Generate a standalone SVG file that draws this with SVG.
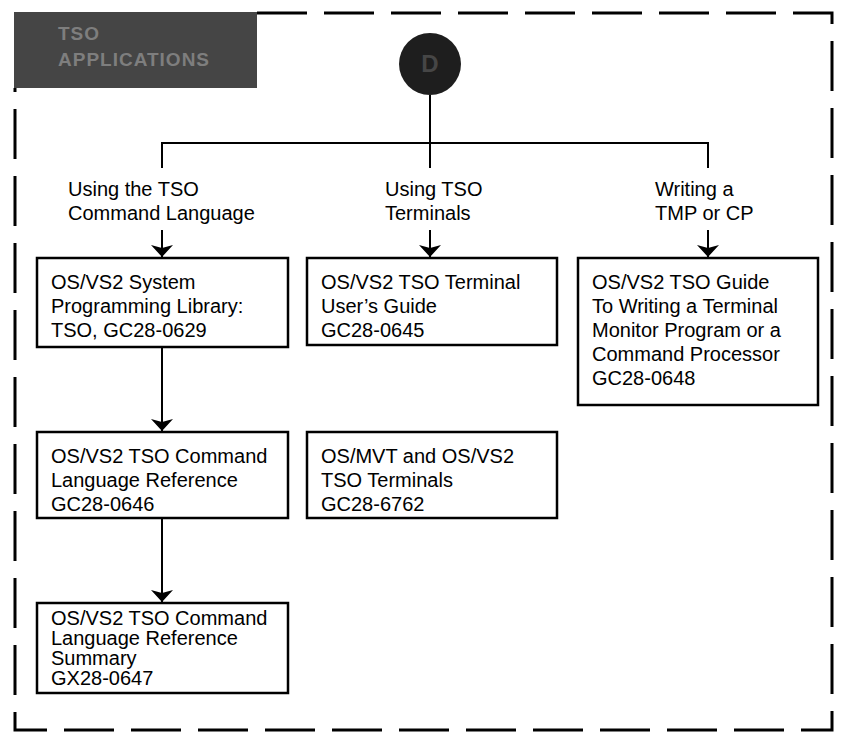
<svg xmlns="http://www.w3.org/2000/svg" width="846" height="743" viewBox="0 0 846 743">
<style>
.t{font-family:"Liberation Sans",Arial,sans-serif;font-size:20px;fill:#000}
.box{fill:#fff;stroke:#000;stroke-width:2.5}
.ln{fill:none;stroke:#000;stroke-width:2}
.frame{fill:none;stroke:#000;stroke-width:3;stroke-dasharray:50 17}
.hd{font-family:"Liberation Sans",Arial,sans-serif;font-size:19px;font-weight:bold;fill:#7e7e7e;letter-spacing:1px}
</style>
<defs>
<marker id="ah" viewBox="0 0 12 22" refX="12" refY="11" markerWidth="12" markerHeight="22" markerUnits="userSpaceOnUse" orient="auto">
<path d="M0,0 L12,11 L0,22 L3,11 Z" fill="#000"/>
</marker>
</defs>
<rect width="846" height="743" fill="#fff"/>
<g id="frame">
<path class="frame" d="M257,13 H832 V730 H15 V88"/>
</g>
<g id="header">
<rect x="14" y="12" width="243" height="76" fill="#454545"/>
<text class="hd" x="58" y="40">TSO</text>
<text class="hd" x="58" y="66">APPLICATIONS</text>
</g>
<g id="start">
<circle cx="430" cy="64" r="31" fill="#1e1e1e"/>
<text x="430" y="72" text-anchor="middle" style="font-family:'Liberation Sans',Arial,sans-serif;font-size:24px;font-weight:bold;fill:#464646">D</text>
</g>
<g id="connectors">
<path class="ln" d="M430,95 V143"/>
<path class="ln" d="M162,168 V143 H708 V168"/>
<path class="ln" d="M430,143 V168"/>
<path class="ln" d="M162,230 V257" marker-end="url(#ah)"/>
<path class="ln" d="M430,230 V257" marker-end="url(#ah)"/>
<path class="ln" d="M708,230 V257" marker-end="url(#ah)"/>
<path class="ln" d="M162,347 V431" marker-end="url(#ah)"/>
<path class="ln" d="M162,518 V602" marker-end="url(#ah)"/>
</g>
<g id="label1">
<text class="t" x="68" y="196">Using the TSO</text>
<text class="t" x="68" y="220">Command Language</text>
</g>
<g id="label2">
<text class="t" x="385" y="196">Using TSO</text>
<text class="t" x="385" y="220">Terminals</text>
</g>
<g id="label3">
<text class="t" x="655" y="196">Writing a</text>
<text class="t" x="655" y="220">TMP or CP</text>
</g>
<g id="box1">
<rect class="box" x="37" y="258" width="251" height="89"/>
<text class="t" x="51" y="289">OS/VS2 System</text>
<text class="t" x="51" y="313">Programming Library:</text>
<text class="t" x="51" y="337">TSO, GC28-0629</text>
</g>
<g id="box2">
<rect class="box" x="307" y="258" width="250" height="87"/>
<text class="t" x="321" y="289">OS/VS2 TSO Terminal</text>
<text class="t" x="321" y="313">User’s Guide</text>
<text class="t" x="321" y="337">GC28-0645</text>
</g>
<g id="box3">
<rect class="box" x="578" y="258" width="240" height="147"/>
<text class="t" x="592" y="289">OS/VS2 TSO Guide</text>
<text class="t" x="592" y="313">To Writing a Terminal</text>
<text class="t" x="592" y="337">Monitor Program or a</text>
<text class="t" x="592" y="361">Command Processor</text>
<text class="t" x="592" y="385">GC28-0648</text>
</g>
<g id="box4">
<rect class="box" x="37" y="432" width="251" height="86"/>
<text class="t" x="51" y="463">OS/VS2 TSO Command</text>
<text class="t" x="51" y="487">Language Reference</text>
<text class="t" x="51" y="511">GC28-0646</text>
</g>
<g id="box5">
<rect class="box" x="307" y="432" width="250" height="86"/>
<text class="t" x="321" y="463">OS/MVT and OS/VS2</text>
<text class="t" x="321" y="487">TSO Terminals</text>
<text class="t" x="321" y="511">GC28-6762</text>
</g>
<g id="box6">
<rect class="box" x="37" y="603" width="251" height="90"/>
<text class="t" x="51" y="625">OS/VS2 TSO Command</text>
<text class="t" x="51" y="645">Language Reference</text>
<text class="t" x="51" y="665">Summary</text>
<text class="t" x="51" y="685">GX28-0647</text>
</g>
</svg>
